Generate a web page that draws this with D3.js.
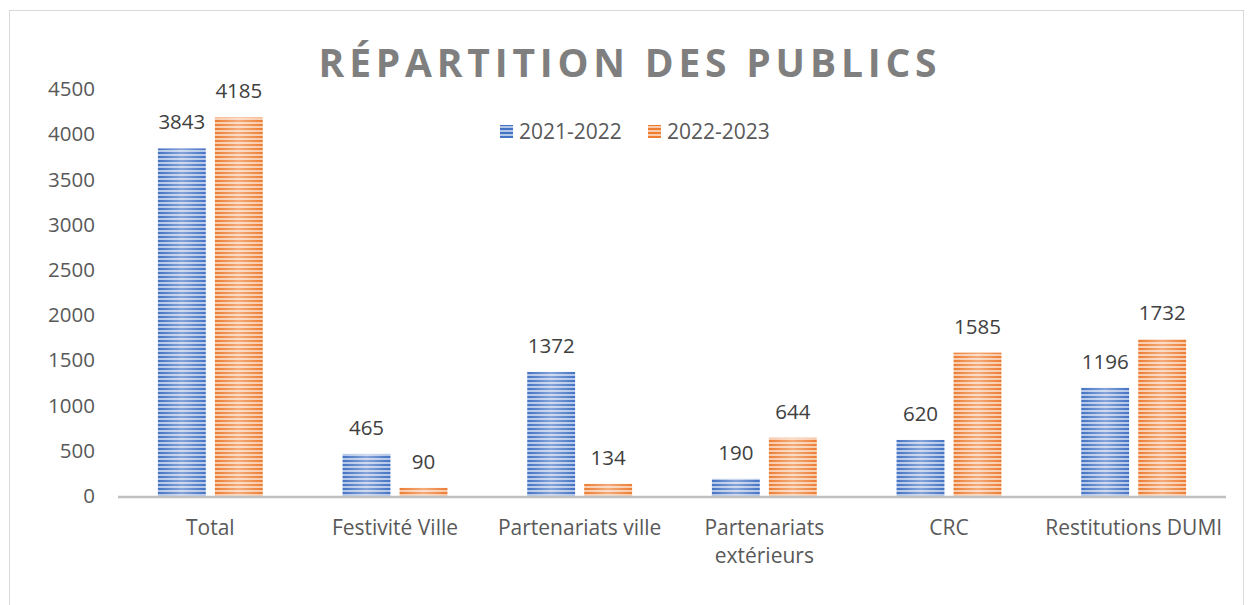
<html>
<head>
	<script src="https://d3js.org/d3.v7.min.js"></script>
</head>
<body>
	<style> *{ margin: 0px; padding: 0px; } body { background: #fff; } </style>
	<svg id="SVGcanvas" width="1254" height="605" xmlns="http://www.w3.org/2000/svg"></svg>
	<script>
	var categories = ["Total", "Festivité Ville", "Partenariats ville", "Partenariats extérieurs", "CRC", "Restitutions DUMI"];
	var seriesNames = ["2021-2022", "2022-2023"];
	var values2122 = [3843, 465, 1372, 190, 620, 1196];
	var values2223 = [4185, 90, 134, 644, 1585, 1732];
	var yTicks = [0, 500, 1000, 1500, 2000, 2500, 3000, 3500, 4000, 4500];
	var colors = ["#4472c4", "#ed7d31"];
	var lightColors = ["#b4c7e7", "#f8cbad"];

	var svg = d3.select( "#SVGcanvas" );
	var font = "'Open Sans', 'Noto Sans', sans-serif";

	// chart frame
	svg.append( "rect" )
		.attr( "x", 9.5 ).attr( "y", 10.5 )
		.attr( "width", 1234 ).attr( "height", 600 )
		.attr( "fill", "#fff" ).attr( "stroke", "#d9d9d9" );

	// striped patterns for the bars
	var defs = svg.append( "defs" );
	colors.forEach( function ( c, i ) {
		var p = defs.append( "pattern" )
			.attr( "id", "stripes" + i )
			.attr( "patternUnits", "userSpaceOnUse" )
			.attr( "width", 8 ).attr( "height", 4 );
		p.append( "rect" ).attr( "width", 8 ).attr( "height", 4 ).attr( "fill", lightColors[i] );
		p.append( "rect" ).attr( "width", 8 ).attr( "height", 2 ).attr( "fill", c );
	});
	var grad = defs.append( "linearGradient" ).attr( "id", "shine" );
	grad.append( "stop" ).attr( "offset", "0%" ).attr( "stop-color", "#fff" ).attr( "stop-opacity", 0 );
	grad.append( "stop" ).attr( "offset", "50%" ).attr( "stop-color", "#fff" ).attr( "stop-opacity", 0.35 );
	grad.append( "stop" ).attr( "offset", "100%" ).attr( "stop-color", "#fff" ).attr( "stop-opacity", 0 );

	var x0 = d3.scaleBand().domain( categories ).range( [118, 1226] );
	var x1 = d3.scaleBand().domain( seriesNames ).range( [0, x0.bandwidth()] ).paddingInner( 0.16 ).paddingOuter( 0.7 );
	var y = d3.scaleLinear().domain( [0, 4500] ).range( [496, 89] );

	// y axis labels
	var yAxis = svg.append( "g" )
		.attr( "transform", "translate(103,0)" )
		.call( d3.axisLeft( y ).tickValues( yTicks ).tickFormat( d3.format( "d" ) ).tickSize( 0 ).tickPadding( 8 ) );
	yAxis.select( ".domain" ).remove();
	yAxis.selectAll( "text" )
		.attr( "font-family", font ).attr( "font-size", 20.5 ).attr( "fill", "#595959" );

	// bars
	var series = [values2122, values2223];
	series.forEach( function ( vals, s ) {
		var g = svg.append( "g" );
		categories.forEach( function ( cat, i ) {
			var bx = x0( cat ) + x1( seriesNames[s] );
			var bw = x1.bandwidth();
			g.append( "rect" )
				.attr( "x", bx ).attr( "y", y( vals[i] ) )
				.attr( "width", bw ).attr( "height", y( 0 ) - y( vals[i] ) )
				.attr( "fill", "url(#stripes" + s + ")" );
			g.append( "rect" )
				.attr( "x", bx ).attr( "y", y( vals[i] ) )
				.attr( "width", bw ).attr( "height", y( 0 ) - y( vals[i] ) )
				.attr( "fill", "url(#shine)" );
			g.append( "text" )
				.attr( "x", bx + bw / 2 ).attr( "y", y( vals[i] ) - 19 )
				.attr( "text-anchor", "middle" )
				.attr( "font-family", font ).attr( "font-size", 20.5 ).attr( "fill", "#404040" )
				.text( vals[i] );
		});
	});

	// x axis line
	svg.append( "line" )
		.attr( "x1", 118 ).attr( "x2", 1226 )
		.attr( "y1", y( 0 ) + 1 ).attr( "y2", y( 0 ) + 1 )
		.attr( "stroke", "#bfbfbf" ).attr( "stroke-width", 2.5 );

	// category labels
	var xLabelLines = {
		"Partenariats extérieurs": ["Partenariats", "extérieurs"]
	};
	categories.forEach( function ( cat ) {
		var lines = xLabelLines[cat] || [cat];
		var t = svg.append( "text" )
			.attr( "text-anchor", "middle" )
			.attr( "font-family", font ).attr( "font-size", 21 ).attr( "fill", "#595959" );
		lines.forEach( function ( l, k ) {
			t.append( "tspan" )
				.attr( "x", x0( cat ) + x0.bandwidth() / 2 )
				.attr( "y", 535 + k * 28 )
				.text( l );
		});
	});

	// title
	svg.append( "text" )
		.attr( "x", 630 ).attr( "y", 77 )
		.attr( "text-anchor", "middle" )
		.attr( "font-family", font ).attr( "font-size", 39 ).attr( "font-weight", "bold" )
		.attr( "letter-spacing", 4.8 ).attr( "fill", "#7f7f7f" )
		.text( "RÉPARTITION DES PUBLICS" );

	// legend
	var legendX = [500, 648];
	seriesNames.forEach( function ( name, s ) {
		svg.append( "rect" )
			.attr( "x", legendX[s] ).attr( "y", 125 )
			.attr( "width", 13 ).attr( "height", 13 )
			.attr( "fill", "url(#stripes" + s + ")" );
		svg.append( "text" )
			.attr( "x", legendX[s] + 19 ).attr( "y", 139 )
			.attr( "font-family", font ).attr( "font-size", 21 ).attr( "fill", "#595959" )
			.text( name );
	});
	</script>
</body>
</html>
